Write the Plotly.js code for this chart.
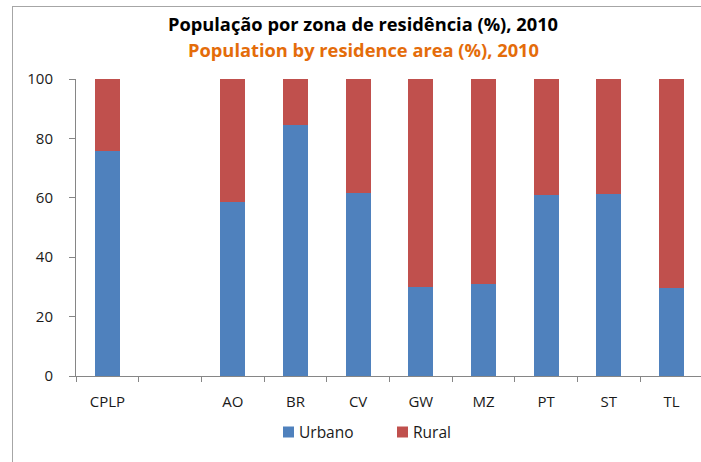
<!DOCTYPE html>
<html>
<head>
<meta charset="utf-8">
<script src="https://cdn.plot.ly/plotly-3.0.1.min.js"></script>
<style>
html,body{margin:0;padding:0;background:#fff;}
#wrap{position:relative;width:701px;height:462px;overflow:hidden;}
#chart{position:absolute;left:0;top:0;width:701px;height:462px;}
#frame{position:absolute;left:12px;top:6px;width:760px;height:500px;border-left:1px solid #a6a6a6;border-top:1px solid #a6a6a6;pointer-events:none;}
</style>
</head>
<body>
<div id="wrap"><div id="chart"></div><div id="frame"></div></div>
<script>
const categories = ['CPLP', '\u00a0', 'AO', 'BR', 'CV', 'GW', 'MZ', 'PT', 'ST', 'TL'];
const urbano = [75.8, null, 58.5, 84.5, 61.6, 29.9, 30.9, 60.8, 61.3, 29.5];
const rural = urbano.map(v => v === null ? null : 100 - v);
const seriesNames = ['Urbano', 'Rural'];
const seriesColors = ['#4F81BD', '#C0504D'];
const titlePt = 'População por zona de residência (%), 2010';
const titleEn = 'Population by residence area (%), 2010';
const yTicks = [0, 20, 40, 60, 80, 100];

const FONT = '"Open Sans", Lato, sans-serif';
const W = 701, H = 462;
const M = {l: 76, r: 0, t: 79, b: 86};
const PW = W - M.l - M.r, PH = H - M.t - M.b;
const px = x => (x - M.l) / PW;
const py = y => (H - M.b - y) / PH;

const traces = [
  {type: 'bar', name: seriesNames[0], x: categories, y: urbano, marker: {color: seriesColors[0]}, width: 0.4},
  {type: 'bar', name: seriesNames[1], x: categories, y: rural, marker: {color: seriesColors[1]}, width: 0.4}
];

// custom legend (square + text)
const legendItems = [{sq: 283, tx: 297}, {sq: 397, tx: 411}];
const legY = 432, sqS = 11;
const shapes = legendItems.map((it, i) => ({
  type: 'rect', xref: 'paper', yref: 'paper',
  x0: px(it.sq), x1: px(it.sq + sqS), y0: py(legY - sqS / 2), y1: py(legY + sqS / 2),
  fillcolor: seriesColors[i], line: {width: 0}
}));
const annotations = legendItems.map((it, i) => ({
  xref: 'paper', yref: 'paper', x: px(it.tx), y: py(legY), xanchor: 'left', yanchor: 'middle',
  text: seriesNames[i], showarrow: false, font: {family: FONT, size: 15.5, color: '#1a1a1a'}
}));
annotations.push({
  xref: 'paper', yref: 'paper', x: px(363), y: py(49.5), xanchor: 'center', yanchor: 'middle',
  text: '<b>' + titleEn + '</b>', showarrow: false, font: {family: FONT, size: 18.3, color: '#E46C0A'}
});

const layout = {
  width: W, height: H,
  barmode: 'stack',
  paper_bgcolor: 'rgba(0,0,0,0)', plot_bgcolor: 'rgba(0,0,0,0)',
  margin: M,
  font: {family: FONT, size: 15, color: '#1a1a1a'},
  title: {
    text: '<b>' + titlePt + '</b>',
    font: {family: FONT, size: 18.3, color: '#000'},
    x: 363 / W, xanchor: 'center', xref: 'container',
    y: 1 - 25 / H, yanchor: 'middle', yref: 'container'
  },
  xaxis: {
    type: 'category', categoryorder: 'array', categoryarray: categories,
    range: [-0.5, 9.47],
    showline: true, linecolor: '#868686', linewidth: 1,
    ticks: 'outside', tickson: 'boundaries', ticklen: 5, tickcolor: '#868686',
    ticklabelstandoff: 12,
    showgrid: false, zeroline: false,
    tickfont: {family: FONT, size: 15, color: '#1a1a1a'},
    fixedrange: true
  },
  yaxis: {
    range: [0, 100], tickvals: yTicks,
    showline: true, linecolor: '#868686', linewidth: 1,
    ticks: 'outside', ticklen: 6, tickcolor: '#868686',
    ticklabelstandoff: 13,
    showgrid: false, zeroline: false,
    tickfont: {family: FONT, size: 15, color: '#1a1a1a'},
    fixedrange: true
  },
  showlegend: false,
  shapes: shapes,
  annotations: annotations
};

Plotly.newPlot('chart', traces, layout, {staticPlot: true, displayModeBar: false});
</script>
</body>
</html>
